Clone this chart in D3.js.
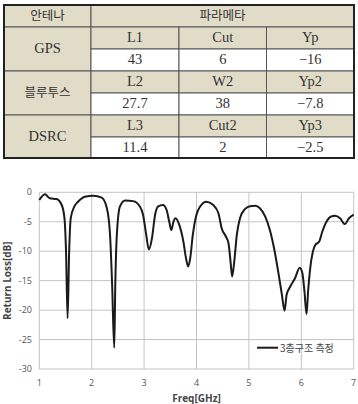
<!DOCTYPE html>
<html>
<head>
<meta charset="utf-8">
<script src="https://cdn.jsdelivr.net/npm/d3@7"></script>
<style>
  body { margin: 0; background: #fff; }
  svg { display: block; }
</style>
</head>
<body>
<svg id="fig"></svg>
<script>
// table data
let headAntenna = "안테나";
let headParam = "파라메타";
let antennas = ["GPS", "블루투스", "DSRC"];
let paramNames = [["L1", "Cut", "Yp"], ["L2", "W2", "Yp2"], ["L3", "Cut2", "Yp3"]];
let paramValues = [["43", "6", "\u221216"], ["27.7", "38", "\u22127.8"], ["11.4", "2", "\u22122.5"]];

let freq = [1.0, 1.11, 1.2, 1.33, 1.43, 1.48, 1.51, 1.54, 1.57, 1.6, 1.67, 1.74, 1.87, 2.03, 2.19, 2.29, 2.35, 2.39, 2.43, 2.45, 2.48, 2.54, 2.64, 2.79, 2.92, 2.98, 3.04, 3.09, 3.15, 3.21, 3.27, 3.36, 3.43, 3.48, 3.52, 3.56, 3.6, 3.67, 3.75, 3.8, 3.84, 3.88, 3.93, 3.99, 4.07, 4.19, 4.32, 4.42, 4.48, 4.56, 4.61, 4.65, 4.68, 4.72, 4.77, 4.83, 4.93, 5.02, 5.12, 5.21, 5.31, 5.4, 5.48, 5.56, 5.63, 5.68, 5.72, 5.79, 5.88, 5.97, 6.02, 6.06, 6.1, 6.13, 6.17, 6.22, 6.27, 6.34, 6.4, 6.48, 6.57, 6.64, 6.74, 6.83, 6.91, 7.0];
let returnLoss = [-1.3, -0.35, -1.0, -1.15, -2.2, -4.4, -10, -21.4, -10, -4.4, -2.4, -1.6, -0.75, -0.6, -0.9, -2.7, -7.2, -15.7, -26.4, -15.7, -7.2, -2.4, -1.4, -1.5, -2.4, -3.8, -7.2, -9.7, -7.8, -3.8, -2.4, -2.15, -3.0, -5.0, -6.4, -5.0, -4.4, -5.5, -8.4, -11.2, -12.6, -11.2, -7.2, -4.1, -2.4, -1.6, -2.15, -3.6, -6.1, -7.5, -8.6, -11.8, -14.3, -11.8, -7.2, -4.4, -2.8, -2.35, -2.3, -2.7, -4.1, -6.4, -9.5, -13.5, -17.4, -20.1, -17.4, -16, -14.6, -12.8, -13.7, -16.8, -20.7, -16.8, -12.9, -10.1, -8.9, -8.4, -6.7, -5.0, -4.1, -4.0, -4.4, -5.4, -4.4, -3.8];

let xTicks = [1, 2, 3, 4, 5, 6, 7];
let yTicks = [0, -5, -10, -15, -20, -25, -30];
let seriesName = "3층구조 측정";

let W = 358, H = 404;
let svg = d3.select("#fig").attr("width", W).attr("height", H);

// ---------- table ----------
let beige = "#e0dcc8";
let colX = [4, 91, 179, 266.5, 354];
let rowY = [5, 27, 49, 71, 93, 115, 137, 158];
let tbl = svg.append("g");
let serif = "'Liberation Serif', 'DejaVu Serif', serif";
let kr = "'Noto Sans CJK KR', sans-serif";

function cell(x0, x1, y0, y1, fill, txt, font) {
  tbl.append("rect").attr("x", x0).attr("y", y0).attr("width", x1 - x0).attr("height", y1 - y0)
    .attr("fill", fill).attr("stroke", "#555").attr("stroke-width", 1);
  tbl.append("text").attr("x", (x0 + x1) / 2).attr("y", (y0 + y1) / 2 + 1)
    .attr("text-anchor", "middle").attr("dominant-baseline", "middle")
    .attr("font-family", font).attr("font-size", font === kr ? 12.5 : 14.5)
    .attr("fill", "#333").text(txt);
}

cell(colX[0], colX[1], rowY[0], rowY[1], beige, headAntenna, kr);
cell(colX[1], colX[4], rowY[0], rowY[1], beige, headParam, kr);
antennas.forEach((a, i) => {
  let r = 1 + i * 2;
  cell(colX[0], colX[1], rowY[r], rowY[r + 2], beige, a, i === 1 ? kr : serif);
  paramNames[i].forEach((p, j) => cell(colX[j + 1], colX[j + 2], rowY[r], rowY[r + 1], beige, p, serif));
  paramValues[i].forEach((v, j) => cell(colX[j + 1], colX[j + 2], rowY[r + 1], rowY[r + 2], "#fff", v, serif));
});
tbl.append("rect").attr("x", colX[0]).attr("y", rowY[0])
  .attr("width", colX[4] - colX[0]).attr("height", rowY[7] - rowY[0])
  .attr("fill", "none").attr("stroke", "#222").attr("stroke-width", 2);

// ---------- chart ----------
let x = d3.scaleLinear().domain([1, 7]).range([39.3, 353.7]);
let y = d3.scaleLinear().domain([-30, 0]).range([369, 192.3]);
let ch = svg.append("g");
let sans = "'Open Sans', 'Noto Sans', sans-serif";

ch.selectAll(".gx").data(xTicks).enter().append("line")
  .attr("x1", d => x(d)).attr("x2", d => x(d)).attr("y1", y(0)).attr("y2", y(-30))
  .attr("stroke", "#c4c4c4").attr("stroke-width", 1);
ch.selectAll(".gy").data(yTicks).enter().append("line")
  .attr("x1", x(1)).attr("x2", x(7)).attr("y1", d => y(d)).attr("y2", d => y(d))
  .attr("stroke", "#c4c4c4").attr("stroke-width", 1);

ch.selectAll(".xl").data(xTicks).enter().append("text")
  .attr("x", d => x(d)).attr("y", 386).attr("text-anchor", "middle")
  .attr("font-family", sans).attr("font-size", 9).attr("fill", "#555").text(d => d);
ch.selectAll(".yl").data(yTicks).enter().append("text")
  .attr("x", 32).attr("y", d => y(d) + 3).attr("text-anchor", "end")
  .attr("font-family", sans).attr("font-size", 9).attr("fill", "#555").text(d => d);

ch.append("text").attr("x", x(4)).attr("y", 402).attr("text-anchor", "middle")
  .attr("font-family", sans).attr("font-size", 10).attr("font-weight", "bold")
  .attr("fill", "#444").text("Freq[GHz]");
ch.append("text").attr("transform", `translate(11,${(y(0) + y(-30)) / 2}) rotate(-90)`)
  .attr("text-anchor", "middle")
  .attr("font-family", sans).attr("font-size", 10).attr("font-weight", "bold")
  .attr("fill", "#444").text("Return Loss[dB]");

let line = d3.line().x(d => x(d[0])).y(d => y(d[1])).curve(d3.curveMonotoneX);
ch.append("path").datum(freq.map((f, i) => [f, returnLoss[i]]))
  .attr("d", line).attr("fill", "none").attr("stroke", "#1a1a1a").attr("stroke-width", 2);

// legend
ch.append("line").attr("x1", 257).attr("x2", 278).attr("y1", 347.7).attr("y2", 347.7)
  .attr("stroke", "#1a1a1a").attr("stroke-width", 2);
ch.append("text").attr("x", 280).attr("y", 351.5)
  .attr("font-family", kr).attr("font-size", 10).attr("fill", "#444").text(seriesName);
</script>
</body>
</html>
